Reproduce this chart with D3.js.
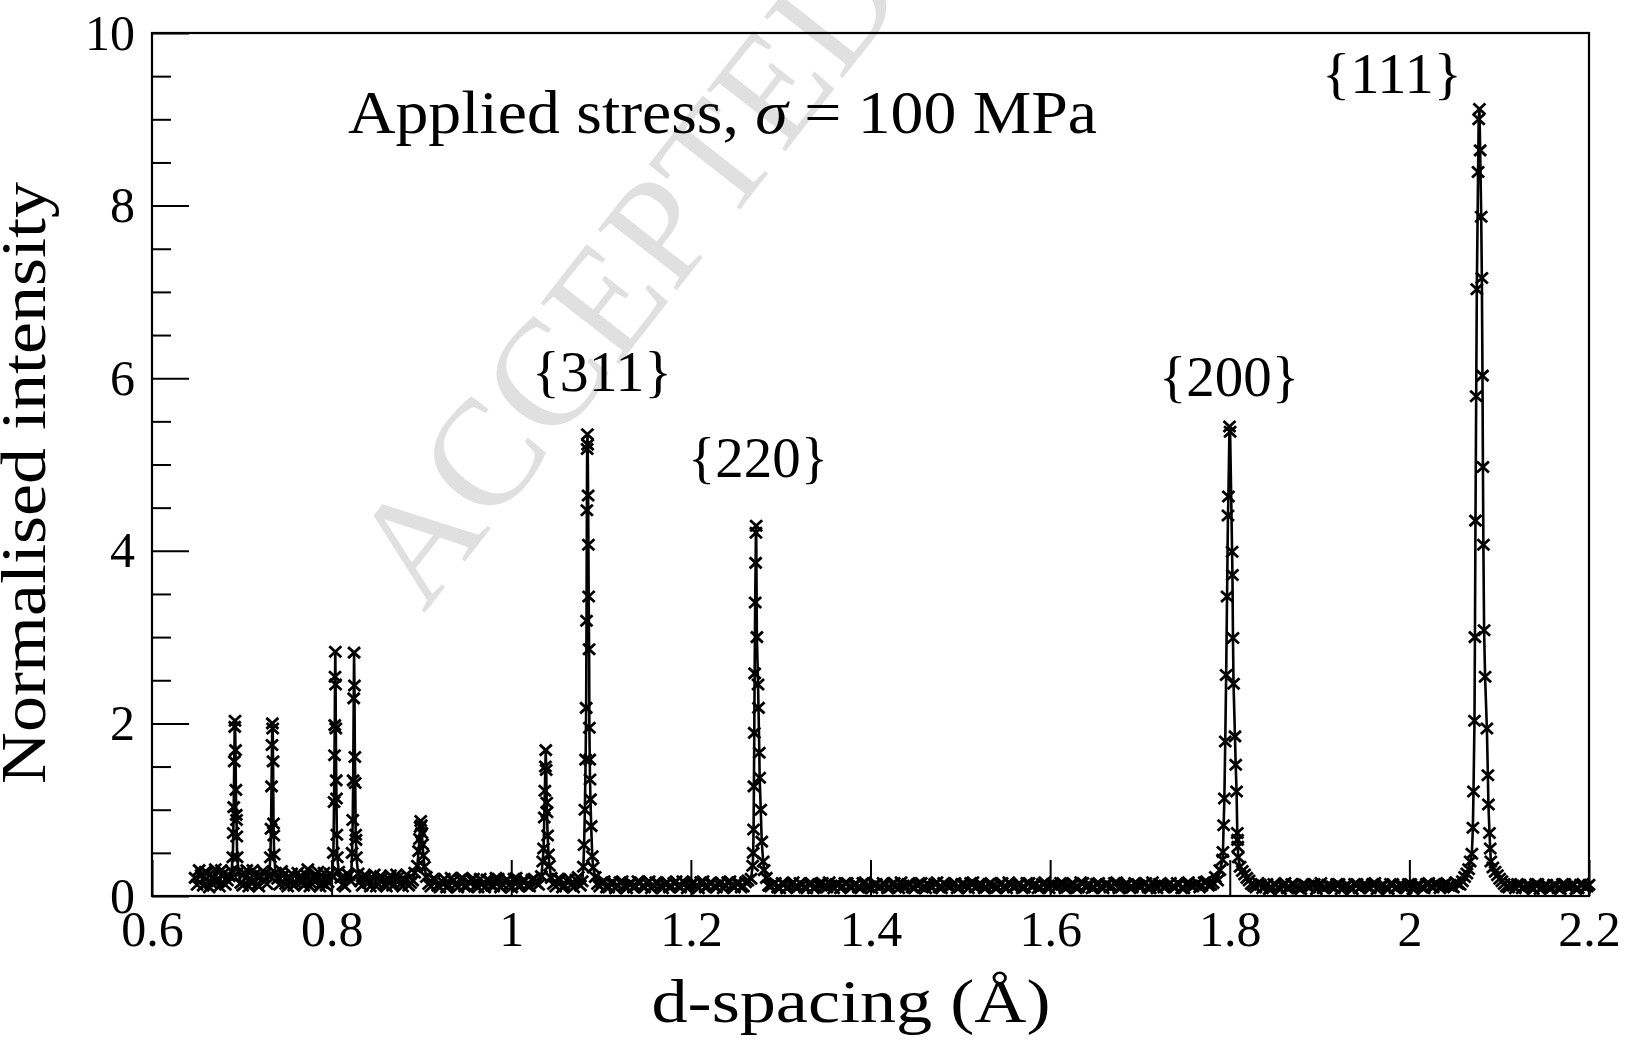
<!DOCTYPE html>
<html>
<head>
<meta charset="utf-8">
<script src="https://cdn.jsdelivr.net/npm/d3@7"></script>
<style>
  body { margin: 0; background: #fff; }
  text { font-family: "Liberation Serif", "DejaVu Serif", serif; }
</style>
</head>
<body>
<svg id="chart"></svg>
<script>
// axis ticks and labels
var xTicks = [0.6, 0.8, 1.0, 1.2, 1.4, 1.6, 1.8, 2.0, 2.2];
var xTickLabels = ["0.6", "0.8", "1", "1.2", "1.4", "1.6", "1.8", "2", "2.2"];
var yTicks = [0, 2, 4, 6, 8, 10];
var yTickLabels = ["0", "2", "4", "6", "8", "10"];
var yMinorTicks = [0.5, 1, 1.5, 2.5, 3, 3.5, 4.5, 5, 5.5, 6.5, 7, 7.5, 8.5, 9, 9.5];

// reflection labels: [text, d-spacing of label centre, baseline intensity]
var peakLabels = [
  ["{311}", 1.1011, 5.85],
  ["{220}", 1.2748, 4.86],
  ["{200}", 1.7992, 5.79],
  ["{111}", 1.9807, 9.30]
];

// background between reflections, [d-spacing, intensity]
var bg1 = [[0.648,0.21],[0.6525,0.30],[0.657,0.12],[0.6615,0.27],[0.666,0.15],[0.6705,0.31],[0.675,0.11],[0.6795,0.26],[0.684,0.18],[0.6885,0.29]];
var bg1b = [[0.6502,0.13],[0.6547,0.24],[0.6592,0.28],[0.6637,0.10],[0.6682,0.22],[0.6727,0.17],[0.6772,0.30],[0.6817,0.13],[0.6862,0.23]];
var bg2 = [[0.6965,0.28],[0.701,0.12],[0.7055,0.30],[0.710,0.16],[0.7145,0.25],[0.719,0.11],[0.7235,0.29],[0.728,0.14],[0.7305,0.24]];
var bg2b = [[0.6988,0.15],[0.7033,0.26],[0.7078,0.11],[0.7123,0.30],[0.7168,0.13],[0.7213,0.23],[0.7258,0.27]];
var bg3 = [[0.7375,0.27],[0.742,0.13],[0.7465,0.24],[0.751,0.11],[0.7555,0.26],[0.760,0.15],[0.7645,0.22],[0.769,0.12],[0.7735,0.31],[0.778,0.14],[0.7825,0.25],[0.787,0.11],[0.7915,0.27],[0.796,0.16],[0.8005,0.23]];
var bg3b = [[0.7398,0.20],[0.7443,0.29],[0.7488,0.14],[0.7533,0.22],[0.7578,0.12],[0.7623,0.27],[0.7668,0.16],[0.7713,0.25],[0.7758,0.11],[0.7803,0.21],[0.7848,0.28],[0.7893,0.15],[0.7938,0.12],[0.7983,0.26]];
var bg4 = [[0.808,0.28],[0.8125,0.13],[0.817,0.26],[0.8215,0.17]];
var bg4b = [[0.8103,0.21],[0.8148,0.11],[0.8193,0.24]];
var bg5 = [[0.8295,0.26],[0.834,0.12],[0.8385,0.23],[0.843,0.11],[0.8475,0.25],[0.852,0.14],[0.8565,0.21],[0.861,0.11],[0.8655,0.24],[0.870,0.13],[0.8745,0.22],[0.879,0.11],[0.8835,0.25],[0.888,0.15],[0.8925,0.27]];
var bg5b = [[0.8318,0.17],[0.8363,0.24],[0.8408,0.15],[0.8453,0.21],[0.8498,0.11],[0.8543,0.23],[0.8588,0.13],[0.8633,0.20],[0.8678,0.12],[0.8723,0.25],[0.8768,0.14],[0.8813,0.19],[0.8858,0.12],[0.8903,0.18]];
var bg6 = [[0.9055,0.22],[0.9105,0.11],[0.9155,0.19],[0.9205,0.10],[0.9255,0.20],[0.9305,0.12],[0.9355,0.18],[0.9405,0.10],[0.9455,0.21],[0.9505,0.11],
           [0.9555,0.19],[0.9605,0.12],[0.9655,0.20],[0.9705,0.10],[0.9755,0.18],[0.9805,0.11],[0.9855,0.20],[0.9905,0.13],[0.9955,0.19],[1.0005,0.10],
           [1.0055,0.21],[1.0105,0.12],[1.0155,0.18],[1.0205,0.11],[1.0255,0.20],[1.0305,0.13],[1.0335,0.23]];
var bg6b = [[0.908,0.14],[0.913,0.20],[0.918,0.12],[0.923,0.17],[0.928,0.10],[0.933,0.21],[0.938,0.13],[0.943,0.19],[0.948,0.11],[0.953,0.16],
            [0.958,0.20],[0.963,0.10],[0.968,0.14],[0.973,0.19],[0.978,0.12],[0.983,0.21],[0.988,0.10],[0.993,0.17],[0.998,0.13],[1.003,0.20],
            [1.008,0.11],[1.013,0.18],[1.018,0.12],[1.023,0.19],[1.028,0.15]];
var bg7 = [[1.0445,0.21],[1.0495,0.11],[1.0545,0.19],[1.0595,0.12],[1.0645,0.20],[1.0695,0.10],[1.0745,0.22],[1.0790,0.17]];
var bg7b = [[1.047,0.14],[1.052,0.20],[1.057,0.10],[1.062,0.18],[1.067,0.13],[1.072,0.19],[1.077,0.12]];
var bg8 = [[1.0935,0.22],[1.0985,0.11],[1.1035,0.17],[1.1085,0.10],[1.1135,0.16],[1.1185,0.12],[1.1235,0.17],[1.1285,0.09],[1.1335,0.15],[1.1385,0.11],
           [1.1435,0.16],[1.1485,0.10],[1.1535,0.17],[1.1585,0.12],[1.1635,0.15],[1.1685,0.09],[1.1735,0.16],[1.1785,0.11],[1.1835,0.17],[1.1885,0.10],
           [1.1935,0.15],[1.1985,0.12],[1.2035,0.16],[1.2085,0.09],[1.2135,0.17],[1.2185,0.11],[1.2235,0.15],[1.2285,0.10],[1.2335,0.16],[1.2385,0.12],
           [1.2435,0.17],[1.2485,0.10],[1.2535,0.15],[1.2585,0.11],[1.2635,0.18],[1.2670,0.20]];
var bg8b = [[1.096,0.14],[1.101,0.16],[1.106,0.10],[1.111,0.15],[1.116,0.09],[1.121,0.16],[1.126,0.12],[1.131,0.14],[1.136,0.10],[1.141,0.17],
            [1.146,0.11],[1.151,0.15],[1.156,0.09],[1.161,0.16],[1.166,0.12],[1.171,0.14],[1.176,0.10],[1.181,0.15],[1.186,0.11],[1.191,0.17],
            [1.196,0.09],[1.201,0.14],[1.206,0.12],[1.211,0.16],[1.216,0.10],[1.221,0.15],[1.226,0.11],[1.231,0.14],[1.236,0.09],[1.241,0.16],
            [1.246,0.12],[1.251,0.15],[1.256,0.10],[1.261,0.16]];
var bg9 = [[1.284,0.21],[1.289,0.11],[1.294,0.15],[1.299,0.09],[1.304,0.14],[1.309,0.11],[1.314,0.16],[1.319,0.10],[1.324,0.13],[1.329,0.09],
           [1.334,0.15],[1.339,0.10],[1.344,0.14],[1.349,0.12],[1.354,0.16],[1.359,0.09],[1.364,0.13],[1.369,0.11],[1.374,0.15],[1.379,0.10],
           [1.384,0.14],[1.389,0.09],[1.394,0.16],[1.399,0.11],[1.404,0.13],[1.409,0.10],[1.414,0.15],[1.419,0.09],[1.424,0.14],[1.429,0.12],
           [1.434,0.16],[1.439,0.10],[1.444,0.13],[1.449,0.09],[1.454,0.15],[1.459,0.11],[1.464,0.14],[1.469,0.10],[1.474,0.16],[1.479,0.09],
           [1.484,0.13],[1.489,0.11],[1.494,0.15],[1.499,0.10],[1.504,0.14],[1.509,0.09],[1.514,0.16],[1.519,0.12],[1.524,0.13],[1.529,0.10],
           [1.534,0.15],[1.539,0.09],[1.544,0.14],[1.549,0.11],[1.554,0.16],[1.559,0.10],[1.564,0.13],[1.569,0.09],[1.574,0.15],[1.579,0.11],
           [1.584,0.14],[1.589,0.10],[1.594,0.16],[1.599,0.09],[1.604,0.13],[1.609,0.12],[1.614,0.15],[1.619,0.10],[1.624,0.14],[1.629,0.09],
           [1.634,0.16],[1.639,0.11],[1.644,0.13],[1.649,0.10],[1.654,0.15],[1.659,0.09],[1.664,0.14],[1.669,0.11],[1.674,0.16],[1.679,0.10],
           [1.684,0.13],[1.689,0.09],[1.694,0.15],[1.699,0.12],[1.704,0.14],[1.709,0.10],[1.714,0.16],[1.719,0.09],[1.724,0.13],[1.729,0.11],
           [1.734,0.15],[1.739,0.10],[1.744,0.14],[1.749,0.09],[1.754,0.16],[1.759,0.11],[1.764,0.15],[1.769,0.12],[1.774,0.17],[1.779,0.13],
           [1.784,0.22],[1.789,0.30]];
var bg9b = [[1.2865,0.12],[1.2915,0.14],[1.2965,0.10],[1.3015,0.15],[1.3065,0.09],[1.3115,0.13],[1.3165,0.11],[1.3215,0.15],[1.3265,0.10],[1.3315,0.14],
            [1.3365,0.09],[1.3415,0.13],[1.3465,0.15],[1.3515,0.10],[1.3565,0.12],[1.3615,0.14],[1.3665,0.09],[1.3715,0.15],[1.3765,0.11],[1.3815,0.13],
            [1.3865,0.10],[1.3915,0.15],[1.3965,0.12],[1.4015,0.09],[1.4065,0.14],[1.4115,0.11],[1.4165,0.13],[1.4215,0.10],[1.4265,0.15],[1.4315,0.09],
            [1.4365,0.12],[1.4415,0.14],[1.4465,0.10],[1.4515,0.13],[1.4565,0.15],[1.4615,0.09],[1.4665,0.11],[1.4715,0.14],[1.4765,0.10],[1.4815,0.15],
            [1.4865,0.11],[1.4915,0.13],[1.4965,0.09],[1.5015,0.14],[1.5065,0.12],[1.5115,0.15],[1.5165,0.10],[1.5215,0.13],[1.5265,0.09],[1.5315,0.14],
            [1.5365,0.12],[1.5415,0.10],[1.5465,0.15],[1.5515,0.09],[1.5565,0.13],[1.5615,0.11],[1.5665,0.14],[1.5715,0.10],[1.5765,0.15],[1.5815,0.12],
            [1.5865,0.09],[1.5915,0.14],[1.5965,0.11],[1.6015,0.13],[1.6065,0.10],[1.6115,0.15],[1.6165,0.09],[1.6215,0.12],[1.6265,0.14],[1.6315,0.10],
            [1.6365,0.15],[1.6415,0.12],[1.6465,0.09],[1.6515,0.14],[1.6565,0.11],[1.6615,0.13],[1.6665,0.10],[1.6715,0.15],[1.6765,0.09],[1.6815,0.12],
            [1.6865,0.14],[1.6915,0.10],[1.6965,0.13],[1.7015,0.11],[1.7065,0.15],[1.7115,0.09],[1.7165,0.12],[1.7215,0.14],[1.7265,0.10],[1.7315,0.13],
            [1.7365,0.11],[1.7415,0.15],[1.7465,0.09],[1.7515,0.14],[1.7565,0.12],[1.7615,0.13],[1.7665,0.10],[1.7715,0.16],[1.7765,0.12],[1.7815,0.15],
            [1.7865,0.18]];
var bg10 = [[1.8115,0.34],[1.8165,0.25],[1.8215,0.18],[1.8265,0.12],[1.8315,0.15],[1.8365,0.09],[1.8415,0.14],[1.8465,0.10],[1.8515,0.13],[1.8565,0.08],
            [1.8615,0.15],[1.8665,0.10],[1.8715,0.13],[1.8765,0.09],[1.8815,0.14],[1.8865,0.11],[1.8915,0.13],[1.8965,0.08],[1.9015,0.15],[1.9065,0.10],
            [1.9115,0.12],[1.9165,0.09],[1.9215,0.14],[1.9265,0.10],[1.9315,0.13],[1.9365,0.08],[1.9415,0.14],[1.9465,0.11],[1.9515,0.12],[1.9565,0.09],
            [1.9615,0.15],[1.9665,0.10],[1.9715,0.13],[1.9765,0.08],[1.9815,0.14],[1.9865,0.10],[1.9915,0.12],[1.9965,0.09],[2.0015,0.14],[2.0065,0.11],
            [2.0115,0.13],[2.0165,0.09],[2.0215,0.15],[2.0265,0.10],[2.0315,0.14],[2.0365,0.12],[2.0415,0.15],[2.0465,0.11],[2.0515,0.16],[2.0565,0.13],
            [2.0615,0.22],[2.0660,0.31]];
var bg10b = [[1.814,0.29],[1.819,0.21],[1.824,0.14],[1.829,0.10],[1.834,0.13],[1.839,0.11],[1.844,0.08],[1.849,0.14],[1.854,0.10],[1.859,0.12],
             [1.864,0.09],[1.869,0.14],[1.874,0.11],[1.879,0.08],[1.884,0.13],[1.889,0.10],[1.894,0.14],[1.899,0.12],[1.904,0.09],[1.909,0.13],
             [1.914,0.11],[1.919,0.14],[1.924,0.08],[1.929,0.12],[1.934,0.10],[1.939,0.14],[1.944,0.09],[1.949,0.13],[1.954,0.11],[1.959,0.14],
             [1.964,0.08],[1.969,0.12],[1.974,0.10],[1.979,0.14],[1.984,0.09],[1.989,0.13],[1.994,0.11],[1.999,0.14],[2.004,0.08],[2.009,0.12],
             [2.014,0.10],[2.019,0.14],[2.024,0.11],[2.029,0.13],[2.034,0.09],[2.039,0.14],[2.044,0.12],[2.049,0.10],[2.054,0.14],[2.059,0.17],
             [2.064,0.26]];
var bg11 = [[2.093,0.33],[2.098,0.24],[2.103,0.17],[2.108,0.11],[2.113,0.14],[2.118,0.09],[2.123,0.13],[2.128,0.10],[2.133,0.12],[2.138,0.08],
            [2.143,0.14],[2.148,0.10],[2.153,0.13],[2.158,0.09],[2.163,0.12],[2.168,0.08],[2.173,0.14],[2.178,0.10],[2.183,0.13],[2.188,0.09],
            [2.193,0.14],[2.198,0.11],[2.200,0.13]];
var bg11b = [[2.0955,0.28],[2.1005,0.20],[2.1055,0.14],[2.1105,0.10],[2.1155,0.12],[2.1205,0.14],[2.1255,0.09],[2.1305,0.13],[2.1355,0.11],[2.1405,0.14],
             [2.1455,0.08],[2.1505,0.12],[2.1555,0.10],[2.1605,0.13],[2.1655,0.09],[2.1705,0.14],[2.1755,0.11],[2.1805,0.12],[2.1855,0.08],[2.1905,0.13],
             [2.1955,0.10]];

// reflections, [d-spacing, intensity]
var peak0692 = [[0.6900,0.45],[0.6905,0.73],[0.6910,1.03],[0.6916,1.56],[0.6921,1.96],[0.6924,2.03],[0.6930,1.69],[0.6934,1.23],[0.6938,0.94],[0.6941,0.88],[0.6944,0.69],[0.6948,0.45]];
var peak0734 = [[0.7318,0.45],[0.7325,0.78],[0.7331,1.27],[0.7336,1.75],[0.7340,2.00],[0.7344,1.94],[0.7348,1.56],[0.7353,0.84],[0.7356,0.70],[0.7360,0.48]];
var peak0804 = [[0.8020,0.50],[0.8027,1.09],[0.8032,1.63],[0.8035,1.98],[0.8038,2.54],[0.8041,2.83],[0.8044,2.45],[0.8047,1.94],[0.8051,1.34],[0.8054,1.13],[0.8058,0.71],[0.8063,0.45]];
var peak0825 = [[0.8228,0.50],[0.8235,0.88],[0.8240,1.34],[0.8246,2.29],[0.8250,2.82],[0.8254,2.44],[0.8259,1.61],[0.8263,1.31],[0.8268,0.71],[0.8271,0.65],[0.8276,0.45]];
var peak0899 = [[0.8955,0.35],[0.8968,0.52],[0.8978,0.66],[0.8986,0.80],[0.8992,0.87],[0.8998,0.82],[0.9004,0.73],[0.9012,0.60],[0.9022,0.47],[0.9034,0.34]];
var peak1038 = [[1.0350,0.40],[1.0360,0.55],[1.0368,0.91],[1.0374,1.22],[1.0380,1.50],[1.0384,1.69],[1.0389,1.46],[1.0395,1.08],[1.0398,0.97],[1.0405,0.70],[1.0415,0.48],[1.0425,0.35]];
var peak311 = [[1.0803,0.34],[1.0811,0.59],[1.0820,1.00],[1.0828,1.58],[1.0834,2.18],[1.0838,3.19],[1.0842,4.47],[1.0845,5.18],[1.0848,5.35],[1.0851,5.23],[1.0856,4.64],[1.0859,4.07],[1.0862,3.47],[1.0867,2.86],[1.0870,1.95],[1.0874,1.58],[1.0877,1.35],[1.0882,1.12],[1.0890,0.81],[1.0902,0.46],[1.0912,0.33]];
var peak220 = [[1.2688,0.35],[1.2694,0.50],[1.2698,0.77],[1.2702,1.27],[1.2706,1.89],[1.2710,2.58],[1.2716,3.40],[1.2721,3.86],[1.2724,4.21],[1.2727,4.29],[1.2735,3.00],[1.2748,2.45],[1.2753,2.18],[1.2762,1.66],[1.2766,1.37],[1.2778,1.00],[1.2789,0.63],[1.2805,0.40],[1.2815,0.30]];
var peak200 = [[1.7920,0.42],[1.7924,0.51],[1.7932,0.82],[1.7940,1.13],[1.7950,1.79],[1.7960,2.56],[1.7970,3.47],[1.7980,4.41],[1.7985,4.63],[1.7997,5.44],[1.8004,5.38],[1.8026,3.99],[1.8030,3.72],[1.8036,2.99],[1.8042,2.46],[1.8058,1.85],[1.8066,1.52],[1.8076,1.21],[1.8084,0.73],[1.8087,0.65],[1.8090,0.57],[1.8094,0.45]];
var peak111 = [[2.0677,0.40],[2.0696,0.49],[2.0707,0.79],[2.0714,1.21],[2.0725,2.03],[2.0730,3.00],[2.0736,4.35],[2.0744,5.79],[2.0751,7.03],[2.0765,8.39],[2.0772,9.00],[2.0780,9.12],[2.0788,8.64],[2.0800,7.87],[2.0807,7.16],[2.0814,6.03],[2.0819,4.97],[2.0824,4.07],[2.0832,3.08],[2.0843,2.54],[2.0863,1.94],[2.0874,1.40],[2.0880,1.06],[2.0892,0.73],[2.0900,0.55],[2.0907,0.40]];

var width = 1628, height = 1046;
var plot = { left: 152, right: 1589, top: 33, bottom: 896 };

var svg = d3.select("#chart")
    .attr("width", width)
    .attr("height", height);

var x = d3.scaleLinear().domain([0.6, 2.2]).range([plot.left, plot.right]);
var y = d3.scaleLinear().domain([0, 10]).range([plot.bottom, plot.top]);

// watermark sits behind everything
svg.append("text")
    .attr("transform", "translate(424,614) rotate(-52)")
    .attr("font-size", 152)
    .attr("fill", "#e0e0e0")
    .text("ACCEPTED MANUSCRIPT");

// join all segments into one pattern sorted by d
var pattern = [].concat(bg1, bg1b, peak0692, bg2, bg2b, peak0734, bg3, bg3b, peak0804,
                        bg4, bg4b, peak0825, bg5, bg5b, peak0899, bg6, bg6b, peak1038,
                        bg7, bg7b, peak311, bg8, bg8b, peak220, bg9, bg9b, peak200,
                        bg10, bg10b, peak111, bg11, bg11b)
                .sort((a, b) => a[0] - b[0]);

var line = d3.line()
    .x(d => x(d[0]))
    .y(d => y(d[1]));

svg.append("path")
    .datum(pattern)
    .attr("fill", "none")
    .attr("stroke", "#000")
    .attr("stroke-width", 2.6)
    .attr("stroke-linejoin", "round")
    .attr("d", line);

// x-shaped markers on every point
var cross = "M-6,-5.5L6,5.5M-6,5.5L6,-5.5";
svg.append("g")
  .selectAll("path")
  .data(pattern)
  .enter()
  .append("path")
    .attr("transform", d => "translate(" + x(d[0]) + "," + y(d[1]) + ")")
    .attr("d", cross)
    .attr("stroke", "#000")
    .attr("stroke-width", 2.8)
    .attr("fill", "none");

// axes with inward ticks
var xAxis = d3.axisBottom(x)
    .tickValues(xTicks)
    .tickSize(-36)
    .tickPadding(14)
    .tickFormat((d, i) => xTickLabels[i]);

var gx = svg.append("g")
    .attr("transform", "translate(0," + plot.bottom + ")")
    .call(xAxis);

var yAxis = d3.axisLeft(y)
    .tickValues(yTicks)
    .tickSize(-37)
    .tickPadding(17)
    .tickFormat((d, i) => yTickLabels[i]);

var gy = svg.append("g")
    .attr("transform", "translate(" + plot.left + ",0)")
    .call(yAxis);

var gyMinor = svg.append("g")
    .attr("transform", "translate(" + plot.left + ",0)")
    .call(d3.axisLeft(y).tickValues(yMinorTicks).tickSize(-19).tickFormat(""));

[gx, gy, gyMinor].forEach(g => {
  g.select(".domain").remove();
  g.selectAll("line").attr("stroke", "#000").attr("stroke-width", 2);
  g.selectAll("text")
    .attr("fill", "#000")
    .attr("font-size", 50)
    .attr("font-family", "'Liberation Serif', serif");
});

// frame
svg.append("rect")
    .attr("x", plot.left)
    .attr("y", plot.top)
    .attr("width", plot.right - plot.left)
    .attr("height", plot.bottom - plot.top)
    .attr("fill", "none")
    .attr("stroke", "#000")
    .attr("stroke-width", 2.2);

// reflection labels
svg.append("g")
  .selectAll("text")
  .data(peakLabels)
  .enter()
  .append("text")
    .attr("x", d => x(d[1]))
    .attr("y", d => y(d[2]))
    .attr("text-anchor", "middle")
    .attr("font-size", 58)
    .attr("textLength", 140)
    .attr("lengthAdjust", "spacingAndGlyphs")
    .text(d => d[0]);

// annotation
var note = svg.append("text")
    .attr("x", 348)
    .attr("y", 133)
    .attr("font-size", 61)
    .attr("textLength", 749)
    .attr("lengthAdjust", "spacingAndGlyphs");
note.append("tspan").text("Applied stress, ");
note.append("tspan").attr("font-style", "italic").text("σ");
note.append("tspan").text(" = 100 MPa");

// axis titles
svg.append("text")
    .attr("x", 851)
    .attr("y", 1022)
    .attr("text-anchor", "middle")
    .attr("font-size", 62)
    .attr("textLength", 399)
    .attr("lengthAdjust", "spacingAndGlyphs")
    .text("d-spacing (Å)");

svg.append("text")
    .attr("transform", "translate(45,483) rotate(-90)")
    .attr("text-anchor", "middle")
    .attr("font-size", 64)
    .attr("textLength", 602)
    .attr("lengthAdjust", "spacingAndGlyphs")
    .text("Normalised intensity");
</script>
</body>
</html>
